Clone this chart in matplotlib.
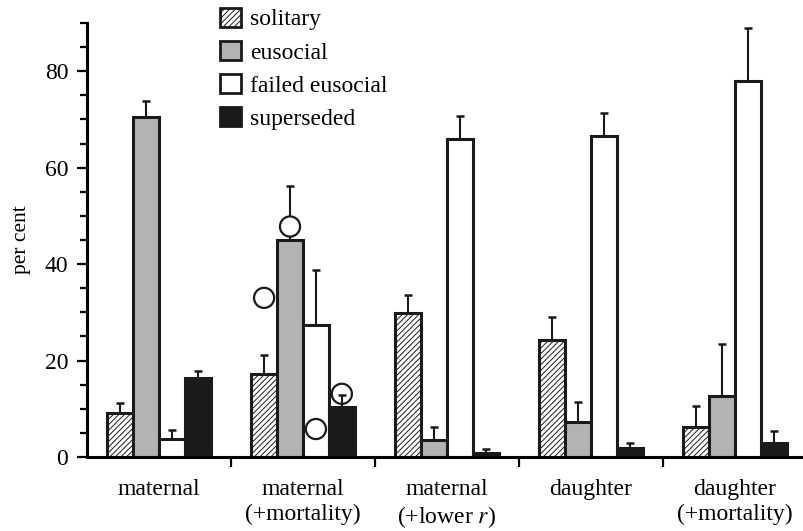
import numpy as np
import matplotlib.pyplot as plt
from matplotlib.patches import Patch
from matplotlib.ticker import MultipleLocator, FixedLocator

plt.rcParams['font.family'] = ['Liberation Serif', 'DejaVu Serif']
plt.rcParams['mathtext.fontset'] = 'stix'
plt.rcParams['hatch.color'] = '#777777'
plt.rcParams['hatch.linewidth'] = 0.7

groups = ["maternal", "maternal\n(+mortality)", "maternal\n(+lower $r$)",
          "daughter", "daughter\n(+mortality)"]
series = ["solitary", "eusocial", "failed eusocial", "superseded"]

solitary = [9.2, 17.2, 29.8, 24.3, 6.2]
solitary_err = [11.2, 21.2, 33.5, 29.0, 10.5]
eusocial = [70.6, 45.0, 3.5, 7.2, 12.6]
eusocial_err = [73.8, 56.3, 6.2, 11.5, 23.5]
failed = [3.8, 27.3, 66.0, 66.5, 78.0]
failed_err = [5.6, 38.8, 70.7, 71.3, 89.0]
superseded = [16.3, 10.3, 0.8, 1.8, 3.0]
superseded_err = [17.8, 12.8, 1.6, 3.0, 5.4]

# open circles in the "maternal (+mortality)" group
circle_vals = [33.0, 47.8, 5.8, 13.1]

values = [solitary, eusocial, failed, superseded]
errtops = [solitary_err, eusocial_err, failed_err, superseded_err]
faces = ["white", "#b3b3b3", "white", "#1a1a1a"]
hatches = ["//////", None, None, None]

fig = plt.figure(figsize=(8.04, 5.31), dpi=100)
ax = fig.add_axes([87 / 804, 1 - 457 / 531, 1 - 87 / 804, (457 - 23) / 531])

x = np.arange(len(groups))
width = 0.18
offsets = [-0.27, -0.09, 0.09, 0.27]

for k in range(4):
    vals = np.array(values[k])
    tops = np.array(errtops[k])
    ax.bar(x + offsets[k], vals, width, color=faces[k], hatch=hatches[k],
           edgecolor="#1a1a1a", linewidth=2.2, zorder=2)
    ax.errorbar(x + offsets[k], vals, yerr=[np.zeros_like(vals), tops - vals],
                fmt="none", ecolor="#1a1a1a", elinewidth=1.5, capsize=3,
                capthick=1.8, zorder=3)

ax.scatter(x[1] + np.array(offsets), circle_vals, s=210,
           facecolors=["none", "white", "none", "none"],
           edgecolors="#1a1a1a", linewidths=1.6, zorder=4)

ax.set_xlim(-0.5, 4.48)
ax.set_ylim(0, 90)
ax.spines["top"].set_visible(False)
ax.spines["right"].set_visible(False)
ax.spines["left"].set_linewidth(2.2)
ax.spines["bottom"].set_linewidth(2.2)

ax.set_xticks(x)
ax.set_xticklabels(groups, fontsize=17, linespacing=1.22)
ax.xaxis.set_minor_locator(FixedLocator([0.5, 1.5, 2.5, 3.5]))
ax.tick_params(axis="x", which="major", length=0, pad=16)
ax.tick_params(axis="x", which="minor", length=7, width=1.6, direction="out")

ax.yaxis.set_major_locator(FixedLocator([0, 20, 40, 60, 80]))
ax.yaxis.set_minor_locator(MultipleLocator(5))
ax.tick_params(axis="y", which="major", length=7.5, width=1.6, labelsize=17, pad=6)
ax.tick_params(axis="y", which="minor", length=5, width=1.6)
ax.set_ylabel("per cent", fontsize=15.5, labelpad=10)

handles = [Patch(facecolor=faces[k], edgecolor="#1a1a1a", hatch=hatches[k],
                 linewidth=2.0) for k in range(4)]
fig.legend(handles, series, loc="upper left", bbox_to_anchor=(211 / 804, 1.003),
           frameon=False, fontsize=17, handlelength=0.85, handleheight=0.85,
           handletextpad=0.4, labelspacing=0.45, borderaxespad=0)

fig.savefig("out.png", dpi=100)
